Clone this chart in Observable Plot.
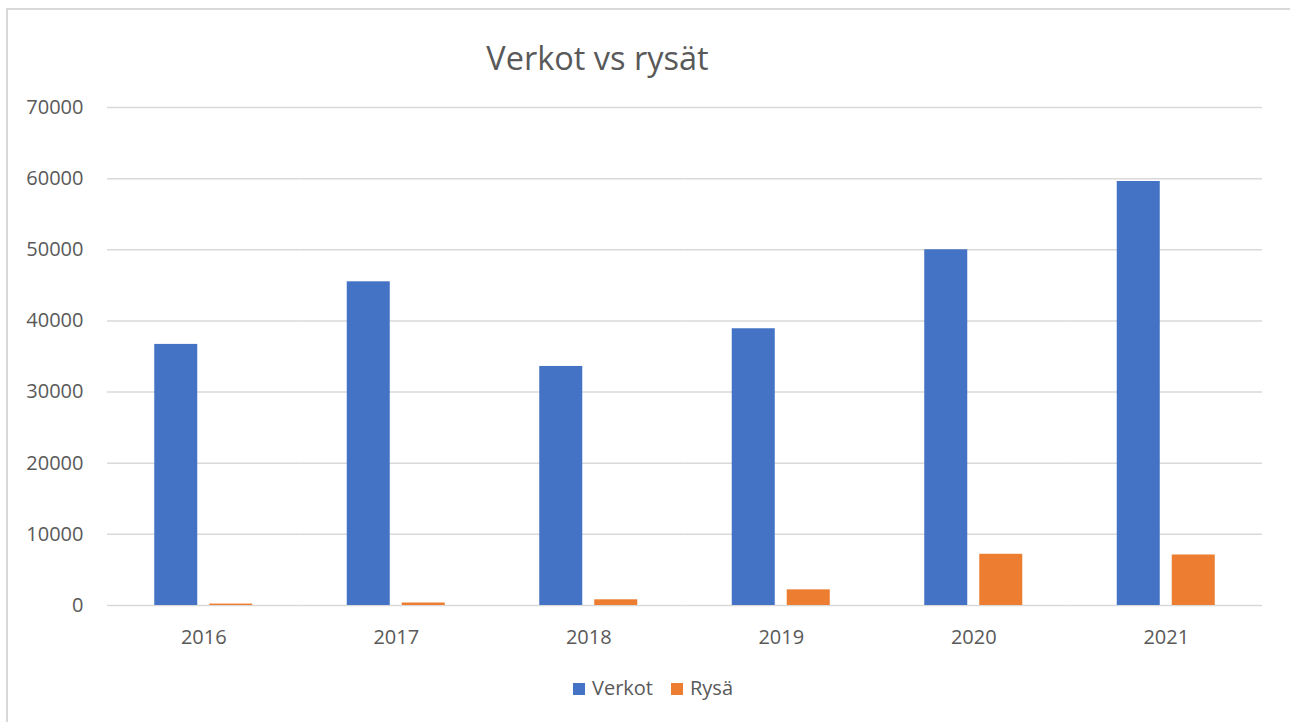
<!DOCTYPE html>
<html>
<head>
<meta charset="utf-8">
<script src="https://cdn.jsdelivr.net/npm/d3@7"></script>
<script src="https://cdn.jsdelivr.net/npm/@observablehq/plot@0.6"></script>
<style>
  html, body { margin: 0; padding: 0; background: #fff; }
  body { width: 1290px; height: 722px; position: relative; overflow: hidden; font-family: "Open Sans", sans-serif; color: #595959; }
  #frame { position: absolute; left: 6px; top: 8px; width: 1400px; height: 800px; border-left: 2px solid #d9d9d9; border-top: 2px solid #d9d9d9; box-sizing: border-box; }
  #title { position: absolute; left: 0; top: 42px; width: 1195px; text-align: center; font-size: 32.5px; line-height: 32px; }
  #chart { position: absolute; left: 0; top: 0; }
  #legend { position: absolute; left: 0; top: 678px; width: 1306px; text-align: center; font-size: 20px; line-height: 20px; }
  #legend span.sw { display: inline-block; width: 12px; height: 12px; margin-right: 7px; vertical-align: 0px; }
  #legend span.item { margin: 0 9px; }
</style>
</head>
<body>
<div id="frame"></div>
<div id="chart"></div>
<div id="title">Verkot vs rysät</div>
<div id="legend"></div>
<script>
const years = ["2016", "2017", "2018", "2019", "2020", "2021"];
const seriesNames = ["Verkot", "Rysä"];
const verkot = [36700, 45500, 33600, 38900, 50000, 59600];
const rysa = [200, 350, 800, 2200, 7200, 7100];
const seriesColors = ["#4472C4", "#ED7D31"];
const yTicks = [0, 10000, 20000, 30000, 40000, 50000, 60000, 70000];

const data = [];
years.forEach((y, i) => {
  data.push({year: y, series: seriesNames[0], value: verkot[i]});
  data.push({year: y, series: seriesNames[1], value: rysa[i]});
});

const chart = Plot.plot({
  width: 1290,
  height: 662,
  marginTop: 107,
  marginBottom: 57,
  marginLeft: 107,
  marginRight: 28,
  style: {fontFamily: "Open Sans, sans-serif", fontSize: "20px", color: "#595959", background: "transparent"},
  fx: {domain: years, padding: 0, round: false, axis: "bottom", tickSize: 0, tickPadding: 24, label: null},
  x: {domain: seriesNames, paddingInner: 0.218, paddingOuter: 0.859, round: false, axis: null},
  y: {domain: [0, 70000], ticks: yTicks, tickFormat: d3.format("d"), tickSize: 0, tickPadding: 24, label: null},
  color: {domain: seriesNames, range: seriesColors},
  marks: [
    Plot.ruleY(yTicks, {stroke: "#d9d9d9", strokeWidth: 1.5}),
    Plot.barY(data, {fx: "year", x: "series", y: "value", fill: "series"})
  ]
});
document.getElementById("chart").appendChild(chart);

const legend = document.getElementById("legend");
seriesNames.forEach((name, i) => {
  const item = document.createElement("span");
  item.className = "item";
  const sw = document.createElement("span");
  sw.className = "sw";
  sw.style.background = seriesColors[i];
  item.appendChild(sw);
  item.appendChild(document.createTextNode(name));
  legend.appendChild(item);
});
</script>
</body>
</html>
